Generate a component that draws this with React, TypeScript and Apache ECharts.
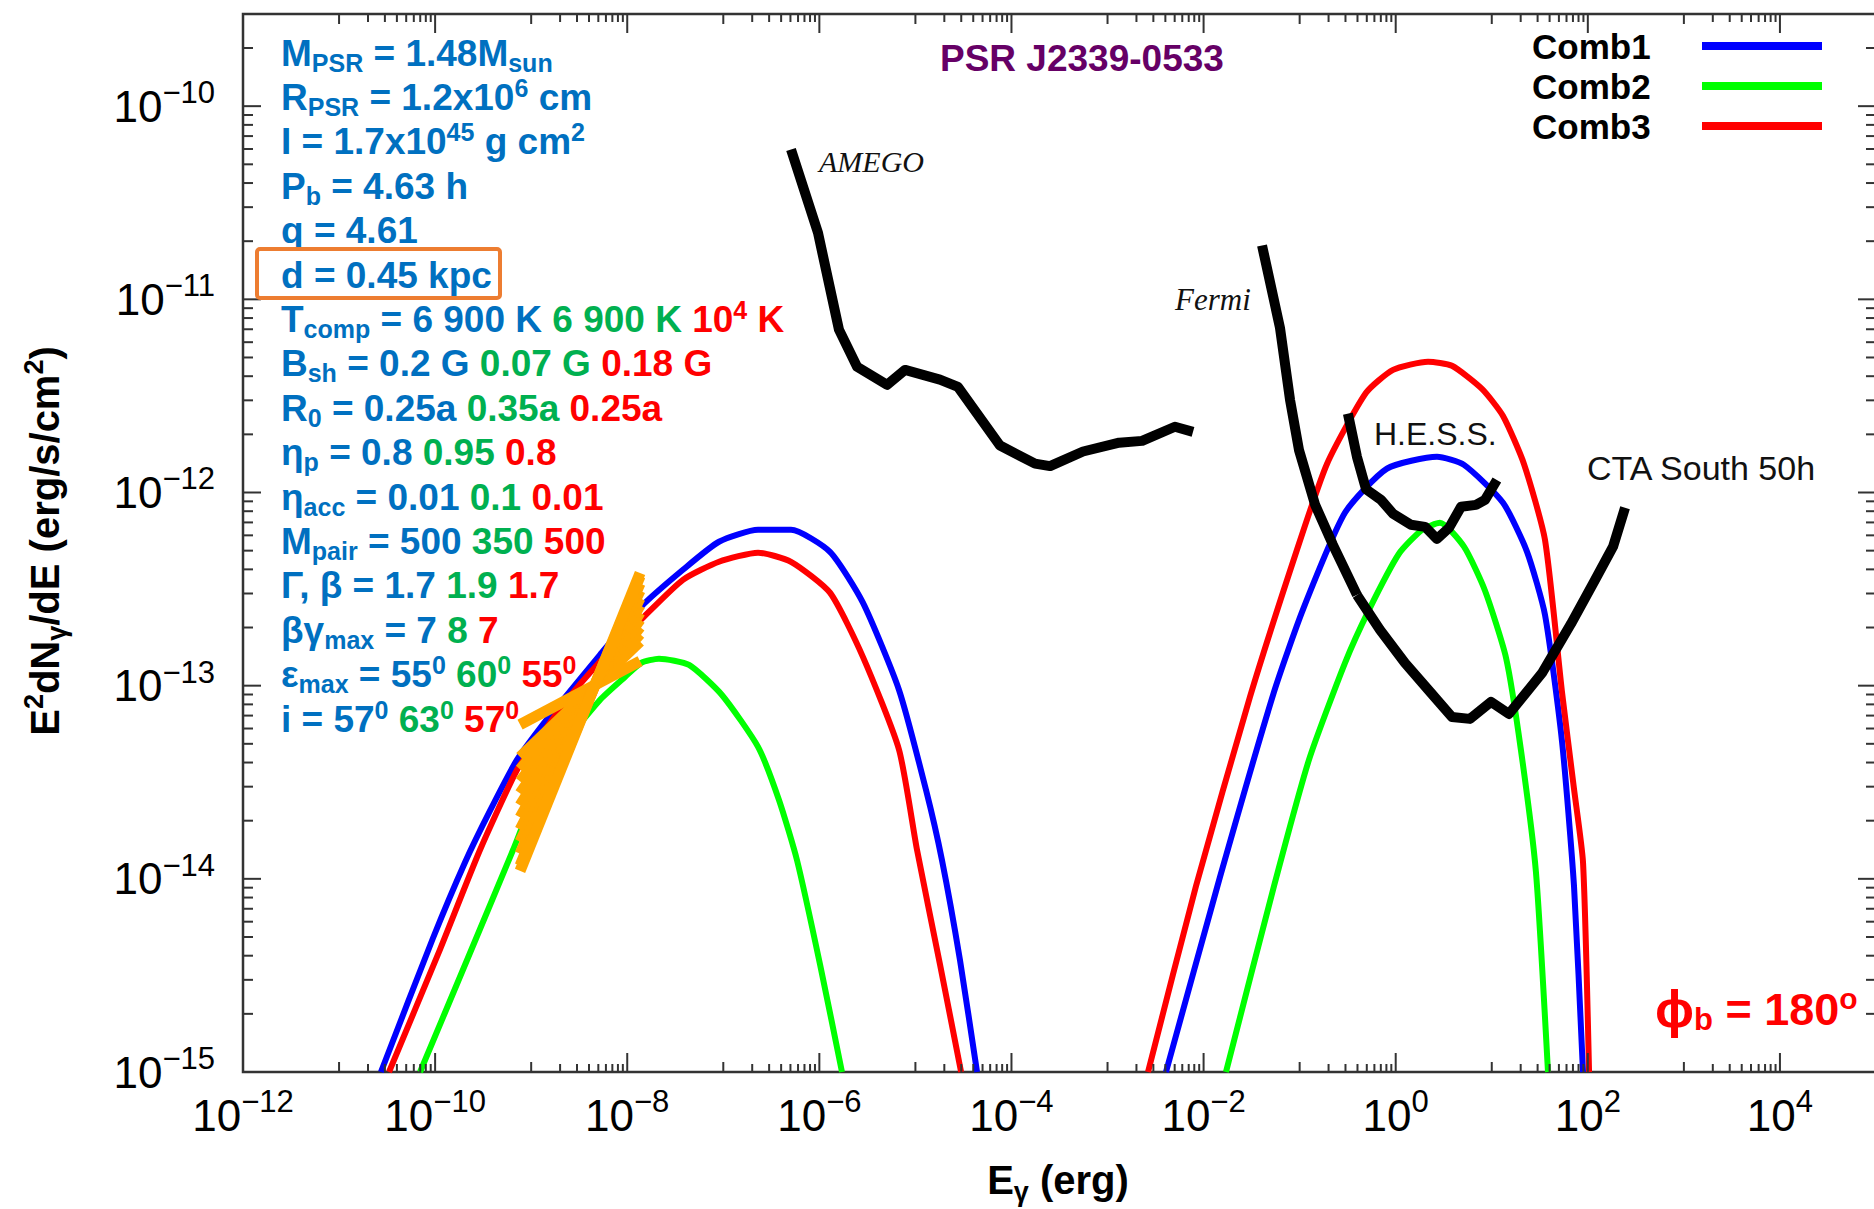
import { useEffect, useRef } from 'react';
import * as echarts from 'echarts';

// ---------- data (E in erg, E^2 dN/dE in erg/s/cm^2) ----------
const comb1LowE = [2.73e-11, 9.51e-11, 2.05e-10, 3.72e-10, 7.11e-10, 1.39e-9, 2.14e-9, 5.2e-9, 1.39e-8, 3.8e-8, 9.02e-8, 2.3e-7, 5.07e-7, 1.29e-6, 2.84e-6, 6.75e-6, 1.29e-5, 1.89e-5, 2.91e-5, 4.38e-5];
const comb1LowF = [1e-15, 4.94e-15, 1.22e-14, 2.25e-14, 4.13e-14, 6.5e-14, 8.43e-14, 1.445e-13, 2.56e-13, 3.98e-13, 5.56e-13, 6.41e-13, 6.41e-13, 4.93e-13, 2.69e-13, 9.5e-14, 2.88e-14, 1.25e-14, 3.8e-15, 1e-15];
const comb1HighE = [4.06e-3, 1.48e-2, 5.41e-2, 0.108, 0.296, 0.811, 2.69, 5.14, 13.1, 23.3, 35.8, 53.8, 71.8, 89.1];
const comb1HighF = [1e-15, 1.02e-14, 9.29e-14, 2.47e-13, 7.85e-13, 1.33e-12, 1.53e-12, 1.39e-12, 8.85e-13, 4.93e-13, 2.33e-13, 5.18e-14, 9.18e-15, 1e-15];

const comb2LowE = [6.97e-11, 2.15e-10, 6.47e-10, 9.73e-10, 2.0e-9, 5.2e-9, 9.48e-9, 1.39e-8, 2.14e-8, 4.4e-8, 9.68e-8, 2.3e-7, 3.8e-7, 5.85e-7, 1.02e-6, 1.72e-6];
const comb2LowF = [1e-15, 3.8e-15, 1.41e-14, 2.33e-14, 4.66e-14, 8.43e-14, 1.11e-13, 1.31e-13, 1.38e-13, 1.28e-13, 8.95e-14, 4.82e-14, 2.56e-14, 1.25e-14, 3.58e-15, 1e-15];
const comb2HighE = [1.71e-2, 5.41e-2, 0.125, 0.296, 0.527, 1.08, 1.88, 2.89, 5.14, 8.51, 14.1, 20.1, 28.8, 38.5];
const comb2HighF = [1e-15, 9.18e-15, 4.13e-14, 1.31e-13, 2.47e-13, 4.82e-13, 6.41e-13, 6.97e-13, 5.24e-13, 3.1e-13, 1.39e-13, 4.66e-14, 1.09e-14, 1e-15];

const comb3LowE = [3.31e-11, 1.12e-10, 2.93e-10, 7.11e-10, 1.24e-9, 2.14e-9, 5.2e-9, 1.49e-8, 3.8e-8, 9.02e-8, 2.3e-7, 5.07e-7, 1.29e-6, 2.84e-6, 6.75e-6, 1.04e-5, 1.8e-5, 2.99e-5];
const comb3LowF = [1e-15, 4.29e-15, 1.41e-14, 3.66e-14, 5.43e-14, 7.96e-14, 1.33e-13, 2.27e-13, 3.53e-13, 4.38e-13, 4.88e-13, 4.38e-13, 3.03e-13, 1.41e-13, 4.66e-14, 1.41e-14, 3.62e-15, 1e-15];
const comb3HighE = [2.64e-3, 8.34e-3, 3.04e-2, 9.38e-2, 0.193, 0.491, 0.938, 2.17, 3.85, 7.91, 13.1, 21.6, 35.8, 53.8, 71.8, 89.1, 103];
const comb3HighF = [1e-15, 9.18e-15, 8.75e-14, 5.05e-13, 1.41e-12, 3.28e-12, 4.31e-12, 4.75e-12, 4.53e-12, 3.44e-12, 2.49e-12, 1.41e-12, 5.69e-13, 9.29e-14, 2.92e-14, 1.22e-14, 1e-15];

const amegoE = [5.07e-7, 9.68e-7, 1.6e-6, 2.47e-6, 5.06e-6, 7.8e-6, 1.8e-5, 2.77e-5, 7.6e-5, 1.76e-4, 2.52e-4, 5.56e-4, 1.32e-3, 2.29e-3, 5.03e-3, 7.76e-3];
const amegoF = [5.96e-11, 2.21e-11, 6.97e-12, 4.48e-12, 3.61e-12, 4.31e-12, 3.84e-12, 3.52e-12, 1.75e-12, 1.41e-12, 1.37e-12, 1.63e-12, 1.81e-12, 1.85e-12, 2.19e-12, 2.06e-12];

const fermiE = [4.06e-2, 6.24e-2, 7.94e-2, 9.84e-2, 0.145, 0.222, 0.395];
const fermiF = [1.9e-11, 7.13e-12, 3.02e-12, 1.66e-12, 8.63e-13, 5.36e-13, 2.95e-13];

const ctaE = [0.395, 0.685, 1.25, 2.28, 3.85, 5.93, 9.82, 15.1, 33.3, 66.8, 119, 183, 244];
const ctaF = [2.95e-13, 1.95e-13, 1.31e-13, 9.29e-14, 6.89e-14, 6.73e-14, 8.24e-14, 7.14e-14, 1.16e-13, 2.09e-13, 3.53e-13, 5.24e-13, 8.34e-13];

const hessE = [0.318, 0.395, 0.491, 0.703, 0.938, 1.44, 2.02, 2.69, 3.59, 4.79, 6.85, 8.51, 11.3];
const hessF = [2.56e-12, 1.53e-12, 1.04e-12, 9.16e-13, 7.76e-13, 6.81e-13, 6.64e-13, 5.75e-13, 6.56e-13, 8.43e-13, 8.63e-13, 9.16e-13, 1.16e-12];

// X-ray bowtie: each power-law line runs from bowtieE[0] to bowtieE[1]
const bowtieE = [7.66e-10, 1.36e-8];
const bowtieLeftF = [6.28e-14, 4.28e-14, 3.69e-14, 3.2e-14, 2.77e-14, 2.4e-14, 2.08e-14, 1.8e-14, 1.56e-14, 1.35e-14, 1.17e-14, 1.1e-14];
const bowtieRightF = [1.34e-13, 1.69e-13, 1.85e-13, 2.01e-13, 2.2e-13, 2.39e-13, 2.61e-13, 2.84e-13, 3.1e-13, 3.38e-13, 3.69e-13, 3.83e-13];

// axes
const xMinE = 1e-12;
const xMaxE = 1e5;
const yMinF = 1e-15;
const yMaxF = 3e-10;
const xMajorExp = [-12, -10, -8, -6, -4, -2, 0, 2, 4];
const xMinorDecadeExp = [-11, -9, -7, -5, -3, -1, 1, 3];
const xMinorMult = [1, 2, 3, 4, 5, 6, 7, 8, 9];
const yMajorExp = [-15, -14, -13, -12, -11, -10];
const yMinorMult = [2, 3, 4, 5, 6, 7, 8, 9];

const paramLines = [
  '{b|M}{bs|PSR}{b| = 1.48M}{bs|sun}',
  '{b|R}{bs|PSR}{b| = 1.2x10}{bp|6}{b| cm}',
  '{b|I = 1.7x10}{bp|45}{b| g cm}{bp|2}',
  '{b|P}{bs|b}{b| = 4.63 h}',
  '{b|q = 4.61}',
  '{b|d = 0.45 kpc}',
  '{b|T}{bs|comp}{b| = 6 900 K\u00A0}{g|6 900 K\u00A0}{r|10}{rp|4}{r|\u00A0K}',
  '{b|B}{bs|sh}{b| = 0.2 G\u00A0}{g|0.07 G\u00A0}{r|0.18 G}',
  '{b|R}{bs|0}{b| = 0.25a\u00A0}{g|0.35a\u00A0}{r|0.25a}',
  '{b|η}{bs|p}{b| = 0.8\u00A0}{g|0.95\u00A0}{r|0.8}',
  '{b|η}{bs|acc}{b| = 0.01\u00A0}{g|0.1\u00A0}{r|0.01}',
  '{b|M}{bs|pair}{b| = 500\u00A0}{g|350\u00A0}{r|500}',
  '{b|Γ, β = 1.7\u00A0}{g|1.9\u00A0}{r|1.7}',
  '{b|βγ}{bs|max}{b| = 7\u00A0}{g|8\u00A0}{r|7}',
  '{b|ε}{bs|max}{b| = 55}{bp|0}{g|\u00A060}{gp|0}{r|\u00A055}{rp|0}',
  '{b|i = 57}{bp|0}{g|\u00A063}{gp|0}{r|\u00A057}{rp|0}',
];

const legendNames = ['Comb1', 'Comb2', 'Comb3'];
const combColors = ['#0000FF', '#00FF00', '#FF0000'];

// ---------- helpers ----------
const FONT = '"Liberation Sans", Arial, Helvetica, sans-serif';
const SERIF = '"Liberation Serif", "Times New Roman", serif';
const TXT_BLUE = '#0070C0';
const TXT_GREEN = '#00B050';
const TXT_RED = '#FF0000';

const toXY = (E: number[], F: number[]) => E.map((e, i) => [Math.log10(e), Math.log10(F[i])]);

const lineSeries = (name: string, data: number[][], color: string, width: number, z: number, smooth: number | boolean = false) => ({
  type: 'line',
  name,
  data,
  showSymbol: false,
  symbol: 'none',
  clip: true,
  silent: true,
  smooth,
  z,
  lineStyle: { color, width, join: 'round', cap: 'butt' },
  itemStyle: { color },
  emphasis: { disabled: true },
});

const fmtExp = (n: number) => (n < 0 ? '\u2212' + String(-n) : String(n));

function buildOption() {
  const xMin = Math.log10(xMinE);
  const xMax = Math.log10(xMaxE);
  const yMin = Math.log10(yMinF);
  const yMax = Math.log10(yMaxF);

  // tick marks (axis 0 = x, 1 = y), value, length
  const ticks: number[][] = [];
  xMajorExp.forEach((e) => ticks.push([0, e, 19]));
  xMinorDecadeExp.forEach((e) => xMinorMult.forEach((m) => ticks.push([0, e + Math.log10(m), m === 1 ? 10 : 8])));
  yMajorExp.forEach((e) => ticks.push([1, e, 18]));
  yMajorExp.forEach((e) =>
    yMinorMult.forEach((m) => {
      const v = e + Math.log10(m);
      if (v < yMax - 0.01) ticks.push([1, v, 10]);
    })
  );

  const labelRich = {
    b: { fontSize: 44, lineHeight: 58, fontFamily: FONT, color: '#000' },
    s: { fontSize: 31, lineHeight: 24, verticalAlign: 'top', fontFamily: FONT, color: '#000' },
  };

  const paramRich: Record<string, any> = {};
  ([['b', TXT_BLUE], ['g', TXT_GREEN], ['r', TXT_RED]] as [string, string][]).forEach(([k, c]) => {
    paramRich[k] = { fill: c, fontSize: 37, fontWeight: 'bold', fontFamily: FONT, lineHeight: 44 };
    paramRich[k + 's'] = { fill: c, fontSize: 25, fontWeight: 'bold', fontFamily: FONT, lineHeight: 18, verticalAlign: 'bottom' };
    paramRich[k + 'p'] = { fill: c, fontSize: 25, fontWeight: 'bold', fontFamily: FONT, lineHeight: 28, verticalAlign: 'top' };
  });

  const titleRich = {
    m: { fill: '#000', fontSize: 40, fontWeight: 'bold', fontFamily: FONT, lineHeight: 50 },
    p: { fill: '#000', fontSize: 27, fontWeight: 'bold', fontFamily: FONT, lineHeight: 28, verticalAlign: 'top' },
    s: { fill: '#000', fontSize: 27, fontWeight: 'bold', fontFamily: FONT, lineHeight: 20, verticalAlign: 'bottom' },
  };

  const phiRich = {
    m: { fill: TXT_RED, fontSize: 45, fontWeight: 'bold', fontFamily: FONT, lineHeight: 52 },
    f: { fill: TXT_RED, fontSize: 52, fontWeight: 'bold', fontFamily: FONT, lineHeight: 52 },
    s: { fill: TXT_RED, fontSize: 31, fontWeight: 'bold', fontFamily: FONT, lineHeight: 18, verticalAlign: 'bottom' },
    p: { fill: TXT_RED, fontSize: 30, fontWeight: 'bold', fontFamily: FONT, lineHeight: 30, verticalAlign: 'top' },
  };

  const graphic: any[] = [];
  paramLines.forEach((t, k) => {
    graphic.push({
      type: 'text',
      x: 281,
      y: 53 + 44.4 * k,
      z: 100,
      silent: true,
      style: { text: t, rich: paramRich, font: `bold 37px ${FONT}`, align: 'left', verticalAlign: 'middle', textAlign: 'left', textVerticalAlign: 'middle' },
    });
  });
  graphic.push({
    type: 'rect',
    z: 100,
    silent: true,
    shape: { x: 257, y: 249, width: 243, height: 49, r: 3 },
    style: { fill: 'none', stroke: '#ED7D31', lineWidth: 4 },
  });
  graphic.push({
    type: 'text', x: 940, y: 58, z: 100, silent: true,
    style: { text: 'PSR J2339-0533', fill: '#660066', font: `bold 37px ${FONT}`, align: 'left', verticalAlign: 'middle', textAlign: 'left', textVerticalAlign: 'middle' },
  });
  // legend
  legendNames.forEach((n, i) => {
    const yy = [46, 86, 126][i];
    graphic.push({
      type: 'text', x: 1532, y: yy, z: 100, silent: true,
      style: { text: n, fill: '#000', font: `bold 35px ${FONT}`, align: 'left', verticalAlign: 'middle', textAlign: 'left', textVerticalAlign: 'middle' },
    });
    graphic.push({
      type: 'line', z: 100, silent: true,
      shape: { x1: 1702, y1: yy, x2: 1822, y2: yy },
      style: { stroke: combColors[i], lineWidth: 8 },
    });
  });
  // instrument labels
  const note = (text: string, x: number, y: number, font: string) =>
    graphic.push({
      type: 'text', x, y, z: 100, silent: true,
      style: { text, fill: '#111', font, align: 'left', verticalAlign: 'middle', textAlign: 'left', textVerticalAlign: 'middle' },
    });
  note('AMEGO', 819, 161, `italic 30px ${SERIF}`);
  note('Fermi', 1175, 299, `italic 31px ${SERIF}`);
  note('H.E.S.S.', 1374, 434, `32px ${FONT}`);
  note('CTA South 50h', 1587, 468, `34px ${FONT}`);
  // phase
  graphic.push({
    type: 'text', x: 1655, y: 1009, z: 100, silent: true,
    style: { text: '{f|\u03D5}{s|b}{m|\u00A0= 180}{p|o}', rich: phiRich, font: `bold 45px ${FONT}`, align: 'left', verticalAlign: 'middle', textAlign: 'left', textVerticalAlign: 'middle' },
  });
  // axis titles
  graphic.push({
    type: 'text', x: 45, y: 541, rotation: Math.PI / 2, z: 100, silent: true,
    style: {
      text: '{m|E}{p|2}{m|dN}{s|\u03B3}{m|/dE (erg/s/cm}{p|2}{m|)}',
      rich: titleRich, font: `bold 40px ${FONT}`, align: 'center', verticalAlign: 'middle', textAlign: 'center', textVerticalAlign: 'middle',
    },
  });
  graphic.push({
    type: 'text', x: 1058, y: 1180, z: 100, silent: true,
    style: {
      text: '{m|E}{s|\u03B3}{m|\u00A0(erg)}',
      rich: titleRich, font: `bold 40px ${FONT}`, align: 'center', verticalAlign: 'middle', textAlign: 'center', textVerticalAlign: 'middle',
    },
  });

  const SM = 0.2;
  const series: any[] = [
    lineSeries('Comb1', toXY(comb1LowE, comb1LowF), combColors[0], 6, 3, SM),
    lineSeries('Comb1', toXY(comb1HighE, comb1HighF), combColors[0], 6, 3, SM),
    lineSeries('Comb2', toXY(comb2LowE, comb2LowF), combColors[1], 6, 3, SM),
    lineSeries('Comb2', toXY(comb2HighE, comb2HighF), combColors[1], 6, 3, SM),
    lineSeries('Comb3', toXY(comb3LowE, comb3LowF), combColors[2], 6, 4, SM),
    lineSeries('Comb3', toXY(comb3HighE, comb3HighF), combColors[2], 6, 4, SM),
    lineSeries('AMEGO', toXY(amegoE, amegoF), '#000', 10, 5),
    lineSeries('Fermi', toXY(fermiE, fermiF), '#000', 10, 5),
    lineSeries('CTA South 50h', toXY(ctaE, ctaF), '#000', 10, 5),
    lineSeries('H.E.S.S.', toXY(hessE, hessF), '#000', 10, 5),
  ];
  bowtieLeftF.forEach((lf, i) => {
    series.push(lineSeries('X-ray', toXY(bowtieE, [lf, bowtieRightF[i]]), '#FFA500', 11, 6));
  });
  series.push({
    type: 'custom',
    name: 'ticks',
    data: ticks,
    silent: true,
    clip: false,
    z: 8,
    renderItem: (params: any, api: any) => {
      const cs = params.coordSys;
      const which = api.value(0);
      const v = api.value(1);
      const len = api.value(2);
      const style = { stroke: '#333', lineWidth: 2 };
      if (which === 0) {
        const px = api.coord([v, yMin])[0];
        const yb = cs.y + cs.height;
        return {
          type: 'group',
          children: [
            { type: 'line', shape: { x1: px, y1: yb, x2: px, y2: yb - len }, style },
            { type: 'line', shape: { x1: px, y1: cs.y, x2: px, y2: cs.y + len }, style },
          ],
        };
      }
      const py = api.coord([xMin, v])[1];
      const xr = cs.x + cs.width;
      return {
        type: 'group',
        children: [
          { type: 'line', shape: { x1: cs.x, y1: py, x2: cs.x + len, y2: py }, style },
          { type: 'line', shape: { x1: xr, y1: py, x2: xr - len, y2: py }, style },
        ],
      };
    },
  });

  return {
    animation: false,
    backgroundColor: '#ffffff',
    textStyle: { fontFamily: FONT },
    grid: { left: 243, top: 14, right: 4, bottom: 137, show: true, borderColor: '#333', borderWidth: 2.5, backgroundColor: 'transparent' },
    xAxis: {
      type: 'value',
      min: xMin,
      max: xMax,
      interval: 2,
      axisLine: { show: false },
      axisTick: { show: false },
      splitLine: { show: false },
      axisLabel: {
        margin: 14,
        formatter: (v: number) => {
          const n = Math.round(v);
          if (Math.abs(v - n) > 1e-6 || n > 4) return '';
          return `{b|10}{s|${fmtExp(n)}}`;
        },
        rich: labelRich,
      },
    },
    yAxis: {
      type: 'value',
      min: yMin,
      max: yMax,
      interval: 1,
      axisLine: { show: false },
      axisTick: { show: false },
      splitLine: { show: false },
      axisLabel: {
        margin: 28,
        formatter: (v: number) => {
          const n = Math.round(v);
          if (Math.abs(v - n) > 1e-6) return '';
          return `{b|10}{s|${fmtExp(n)}}`;
        },
        rich: labelRich,
      },
    },
    graphic: { elements: graphic },
    series,
  };
}

export default function App() {
  const ref = useRef<HTMLDivElement>(null);
  useEffect(() => {
    if (!ref.current) return;
    const chart = echarts.init(ref.current, undefined, { renderer: 'svg' });
    chart.setOption(buildOption() as any);
    return () => chart.dispose();
  }, []);
  return (
    <div style={{ position: 'absolute', left: 0, top: 0, width: 1874, height: 1209, overflow: 'hidden', background: '#fff' }}>
      <div ref={ref} style={{ width: 1880, height: 1209 }} />
    </div>
  );
}
